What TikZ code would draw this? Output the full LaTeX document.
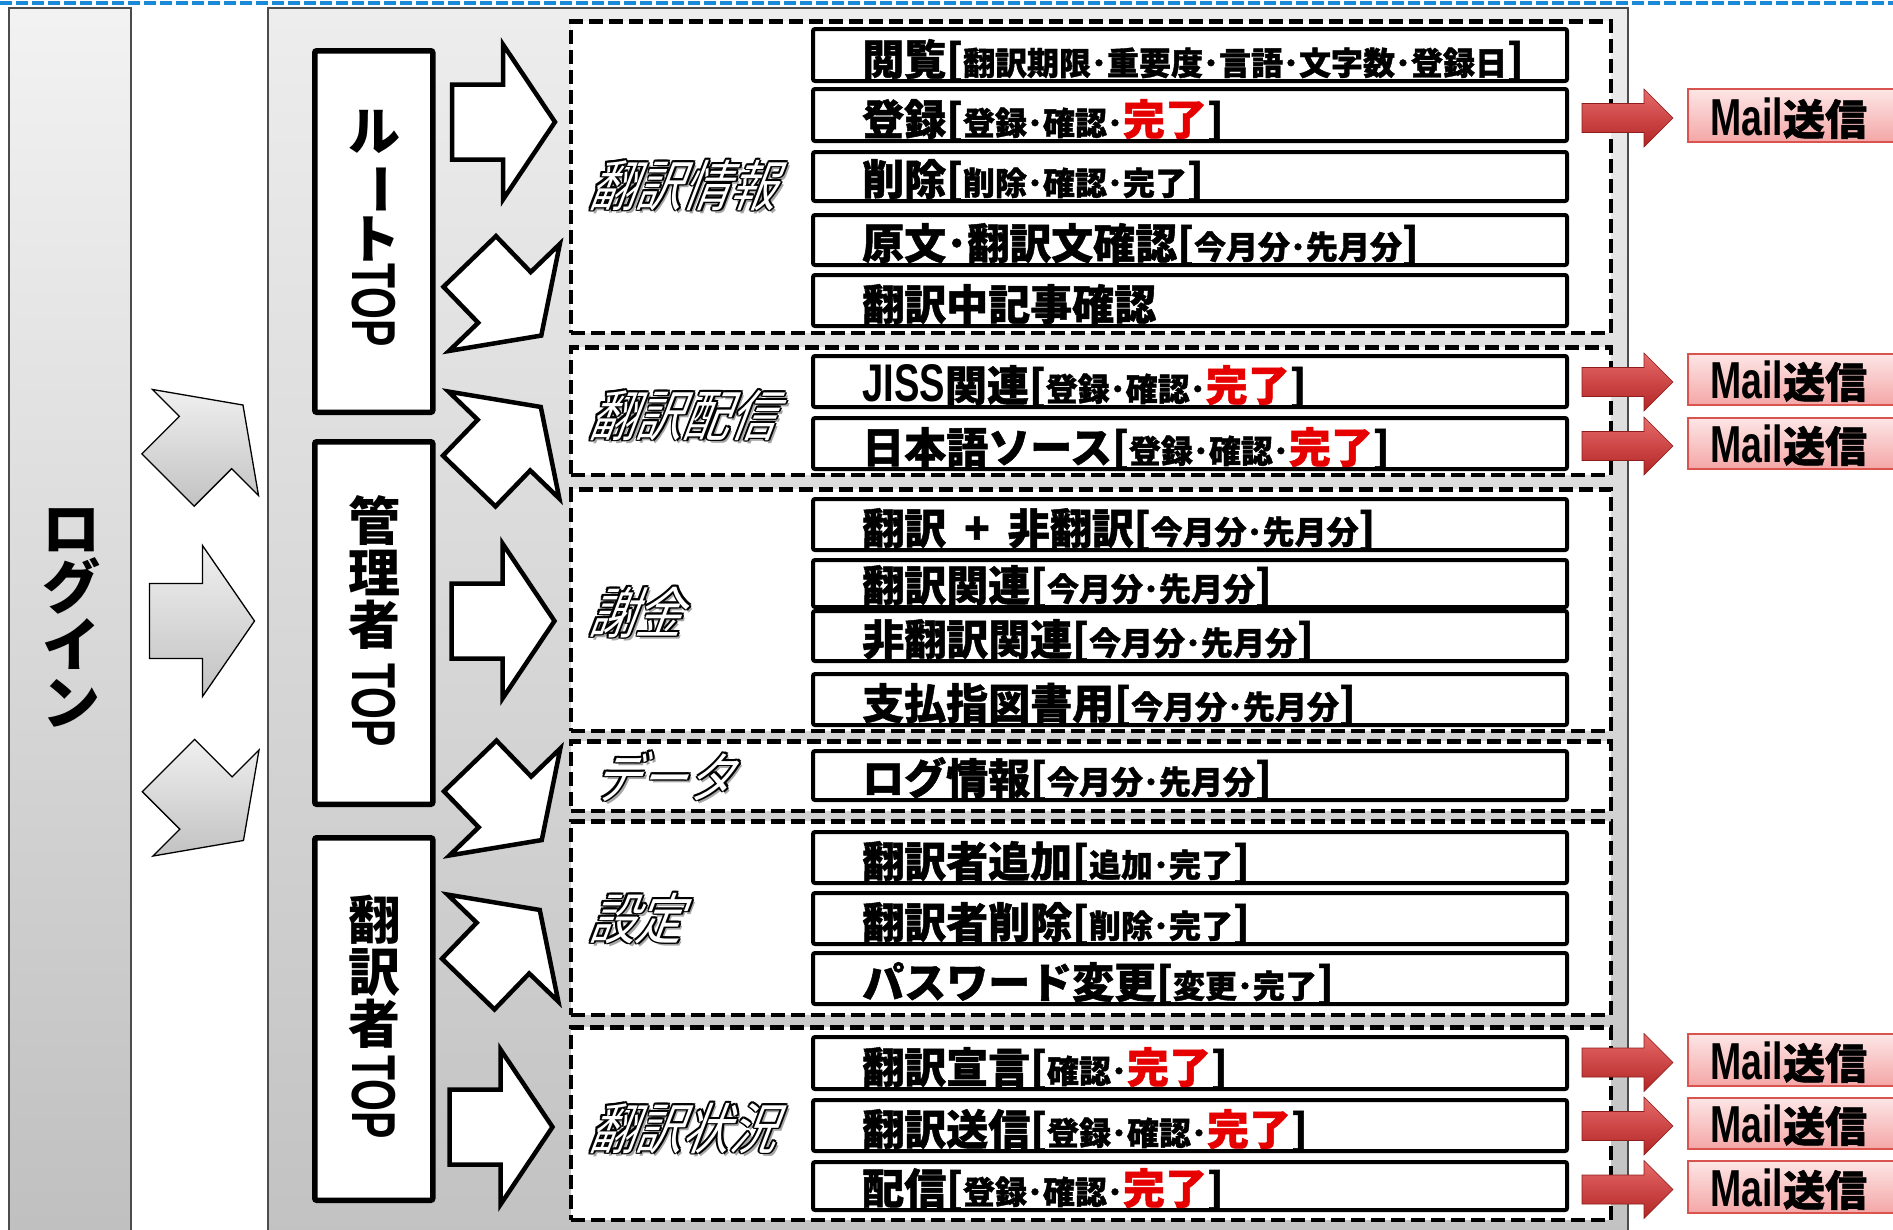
\documentclass[tikz,border=0pt]{standalone}
\usepackage{fontspec}
\usepackage{graphicx}
\usetikzlibrary{calc}
\newfontfamily\jp{Noto Sans CJK JP}
\newfontfamily\jpx{Noto Sans CJK JP}[BoldFeatures={FakeBold=1.2}]
\newfontfamily\jplbl{Noto Sans CJK JP}[FakeSlant=0.38,FakeStretch=0.85]
\newfontfamily\narrowf{Liberation Sans}[FakeStretch=0.72]
\newfontfamily\narrowtop{Liberation Sans}[FakeStretch=0.66]
\definecolor{kred}{HTML}{E60000}
\definecolor{topblue}{HTML}{1A8AD8}
\definecolor{mailedge}{HTML}{D9534F}
\definecolor{mailtop}{HTML}{FDE6E6}
\definecolor{mailbot}{HTML}{F4A6A6}
\definecolor{arrtop}{HTML}{E86A6A}
\definecolor{arrbot}{HTML}{B22424}
\newcommand\sm[1]{{\fontsize{32}{32}\selectfont #1}}
\newcommand\rd[1]{\textcolor{kred}{#1}}
\newcommand\olt[1]{\leavevmode
 \rlap{\kern3pt\raisebox{-3.5pt}{\textcolor{black!35}{#1}}}%
 \rlap{\kern-1.8pt\textcolor{black}{#1}}%
 \rlap{\kern1.8pt\textcolor{black}{#1}}%
 \rlap{\raisebox{1.8pt}{\textcolor{black}{#1}}}%
 \rlap{\raisebox{-1.8pt}{\textcolor{black}{#1}}}%
 \rlap{\kern-1.3pt\raisebox{1.3pt}{\textcolor{black}{#1}}}%
 \rlap{\kern1.3pt\raisebox{1.3pt}{\textcolor{black}{#1}}}%
 \rlap{\kern-1.3pt\raisebox{-1.3pt}{\textcolor{black}{#1}}}%
 \rlap{\kern1.3pt\raisebox{-1.3pt}{\textcolor{black}{#1}}}%
 \textcolor{white}{#1}}
\newcommand\blockarrow[8][]{%
 \path[#1, shift={({#2},{#3})}, rotate=#4]
  ({-(#5+#6)/2},{-#7/2}) -- ({-(#5+#6)/2+#5},{-#7/2}) -- ({-(#5+#6)/2+#5},{-#8/2})
  -- ({(#5+#6)/2},0) -- ({-(#5+#6)/2+#5},{#8/2}) -- ({-(#5+#6)/2+#5},{#7/2})
  -- ({-(#5+#6)/2},{#7/2}) -- cycle;}
\tikzset{
 itembox/.style={draw=black, line width=4pt, fill=white, rounded corners=2pt, minimum width=754pt, inner sep=0pt},
 itemtext/.style={font=\jpx\bfseries\fontsize{42}{42}\selectfont, inner sep=0pt, text=black},
 grpbox/.style={draw=black, line width=4.5pt, dash pattern=on 14pt off 6pt, fill=white, minimum width=1040pt, inner sep=0pt},
 lbl/.style={font=\jplbl\fontsize{55}{55}\selectfont, inner sep=0pt},
 topbox/.style={draw=black, line width=5.5pt, fill=white, rounded corners=2pt, minimum width=118pt, inner sep=0pt},
 vstack/.style={font=\jp\bfseries\fontsize{52}{52}\selectfont, align=center, inner sep=0pt, anchor=north},
 toptext/.style={font=\narrowtop\bfseries\fontsize{62}{62}\selectfont, rotate=-90, anchor=west, inner sep=0pt},
 mailbox/.style={draw=mailedge, line width=2pt, top color=mailtop, bottom color=mailbot, minimum width=260pt, inner sep=0pt, anchor=north west},
 mailtext/.style={inner sep=0pt, anchor=base west},
 redarrow/.style={top color=arrtop, bottom color=arrbot, draw=arrbot!80!black, line width=0.6pt},
 grayarrow/.style={top color=gray!12, bottom color=gray!48, draw=black, line width=1.3pt, line join=miter},
 whitearrow/.style={fill=white, draw=black, line width=4.5pt, line join=miter},
}
\newcommand\itm[4]{%
 \node[itembox, minimum height={#3-#2-4}] (#1) at (1190,{(#2+#3)/2}) {};
 \node[itemtext, anchor=base west] (#1t) at (862,{#3-8}) {#4};}
\newcommand\grp[3]{%
 \node[grpbox, minimum height={#3-#2-4.5}] (#1) at (1091,{(#2+#3)/2}) {};}
\newcommand\mail[3]{%
 \blockarrow[redarrow]{1627.5}{(#2+#3)/2+3.5}{0}{62}{29}{29}{58}
 \node[mailbox, minimum height={#3-#2-2}] (#1) at (1687,{#2+1}) {};
 \node[mailtext] (#1t) at (1710,{#3-7}) {{\narrowf\bfseries\fontsize{52}{52}\selectfont Mail}{\jpx\bfseries\fontsize{42}{42}\selectfont 送信}};}
\begin{document}
\begin{tikzpicture}[x=1pt,y=-1pt]
\useasboundingbox (0,0) rectangle (1893,1229);
\fill[white] (0,0) rectangle (1893,1229);
% panels
\shade[top color=gray!10, bottom color=gray!50, draw=black!70, line width=1.5pt] (9,8) rectangle (131,1245);
\shade[top color=gray!14, bottom color=gray!48, draw=black!70, line width=1.5pt] (268,8) rectangle (1628,1245);
\draw[topblue, line width=4.5pt, dash pattern=on 12pt off 4pt] (0,3) -- (1893,3);
% login text
\node[vstack, font=\jp\bfseries\fontsize{58}{58}\selectfont] (login) at (71,508) {ロ\\グ\\イ\\ン};
% gray arrows
\blockarrow[grayarrow]{205.5}{442.5}{45}{53}{53}{74}{150}
\blockarrow[grayarrow]{202}{621}{0}{53}{52}{75}{151}
\blockarrow[grayarrow]{206}{803}{-45}{53}{53}{74}{150}
% TOP boxes
\node[topbox, minimum height=361.5pt] (root) at (373.75,231.5) {};
\node[vstack] (roott) at (374,110) {ル\\\rotatebox[origin=c]{-90}{ー}\\ト};
\node[toptext] (rootop) at (374,263) {TOP};
\node[topbox, minimum height=362.5pt] (admin) at (373.75,623) {};
\node[vstack] (admint) at (374,495) {管\\理\\者};
\node[toptext] (admintop) at (374,663) {TOP};
\node[topbox, minimum height=362.5pt] (trans) at (373.75,1019) {};
\node[vstack] (transt) at (374,895) {翻\\訳\\者};
\node[toptext] (transtop) at (374,1055) {TOP};
% white arrows
\blockarrow[whitearrow]{503.5}{122}{0}{51}{52}{75}{155}
\blockarrow[whitearrow]{505.5}{298.5}{-46}{50}{53}{73}{154}
\blockarrow[whitearrow]{505}{444}{46}{50}{53}{73}{154}
\blockarrow[whitearrow]{503}{621}{0}{51}{52}{75}{155}
\blockarrow[whitearrow]{506}{803}{-46}{50}{53}{73}{154}
\blockarrow[whitearrow]{504}{947}{46}{50}{53}{73}{154}
\blockarrow[whitearrow]{501}{1127}{0}{51}{52}{75}{155}
% groups
\grp{g1}{19}{335}
\grp{g2}{345}{477}
\grp{g3}{487}{733}
\grp{g4}{739}{813}
\grp{g5}{819}{1017}
\grp{g6}{1025}{1222}
% group labels
\node[lbl, anchor=base west] (l1) at (588,206) {\olt{翻訳情報}};
\node[lbl, anchor=base west] (l2) at (588,436) {\olt{翻訳配信}};
\node[lbl, anchor=base west] (l3) at (588,633) {\olt{謝金}};
\node[lbl, anchor=base west] (l4) at (592,798) {\olt{データ}};
\node[lbl, anchor=base west] (l5) at (588,939) {\olt{設定}};
\node[lbl, anchor=base west] (l6) at (588,1149) {\olt{翻訳状況}};
% items
\itm{i1}{27}{83}{閲覧[\sm{翻訳期限･重要度･言語･文字数･登録日}]}
\itm{i2}{87}{143}{登録[\sm{登録･確認･}\rd{完了}]}
\itm{i3}{150}{203}{削除[\sm{削除･確認･完了}]}
\itm{i4}{213}{267}{原文･翻訳文確認[\sm{今月分･先月分}]}
\itm{i5}{273}{328}{翻訳中記事確認}
\itm{i6}{354}{409}{{\narrowf\fontsize{53}{53}\selectfont JISS}関連[\sm{登録･確認･}\rd{完了}]}
\itm{i7}{416}{471}{日本語ソース[\sm{登録･確認･}\rd{完了}]}
\itm{i8}{497}{552}{翻訳\hspace{18pt}+\hspace{18pt}非翻訳[\sm{今月分･先月分}]}
\itm{i9}{558}{609}{翻訳関連[\sm{今月分･先月分}]}
\itm{i10}{609}{663}{非翻訳関連[\sm{今月分･先月分}]}
\itm{i11}{672}{727}{支払指図書用[\sm{今月分･先月分}]}
\itm{i12}{749}{802}{ログ情報[\sm{今月分･先月分}]}
\itm{i13}{830}{885}{翻訳者追加[\sm{追加･完了}]}
\itm{i14}{891}{946}{翻訳者削除[\sm{削除･完了}]}
\itm{i15}{951}{1006}{パスワード変更[\sm{変更･完了}]}
\itm{i16}{1035}{1091}{翻訳宣言[\sm{確認･}\rd{完了}]}
\itm{i17}{1098}{1153}{翻訳送信[\sm{登録･確認･}\rd{完了}]}
\itm{i18}{1160}{1212}{配信[\sm{登録･確認･}\rd{完了}]}
% mail
\mail{m1}{87}{142}
\mail{m2}{352}{405}
\mail{m3}{416}{469}
\mail{m4}{1032}{1086}
\mail{m5}{1096}{1149}
\mail{m6}{1159}{1213}
\end{tikzpicture}
\end{document}
